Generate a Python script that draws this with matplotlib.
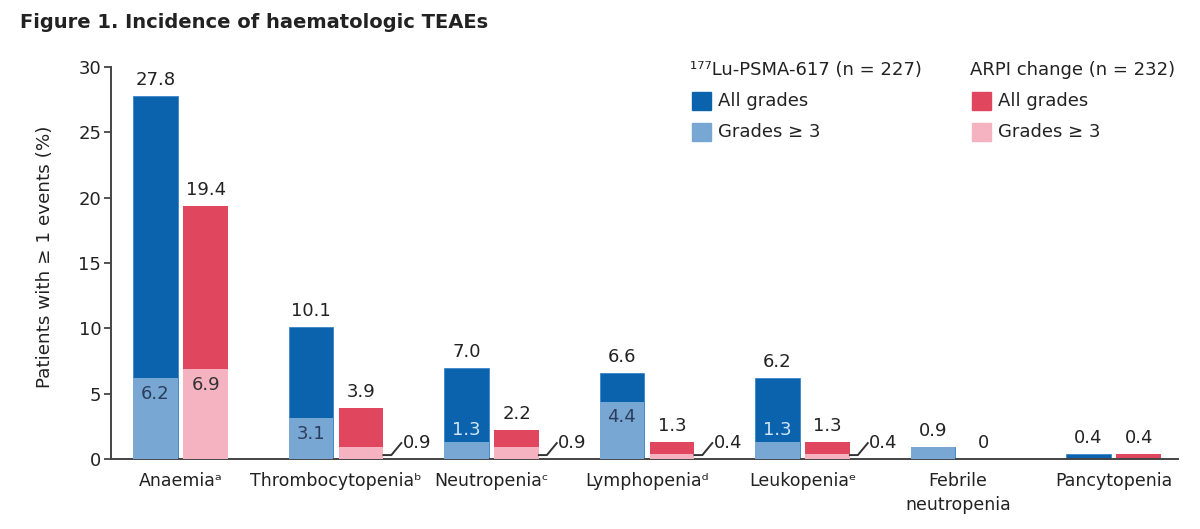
import matplotlib
matplotlib.use("Agg")
import matplotlib.pyplot as plt
from matplotlib.patches import Rectangle
import numpy as np

plt.rcParams['font.family'] = ['DejaVu Sans']

categories = ["Anaemia\u1d43", "Thrombocytopenia\u1d47", "Neutropenia\u1d9c",
              "Lymphopenia\u1d48", "Leukopenia\u1d49", "Febrile\nneutropenia", "Pancytopenia"]
lu_all = [27.8, 10.1, 7.0, 6.6, 6.2, 0.9, 0.4]
lu_g3 = [6.2, 3.1, 1.3, 4.4, 1.3, 0.9, 0.0]
arpi_all = [19.4, 3.9, 2.2, 1.3, 1.3, 0.0, 0.4]
arpi_g3 = [6.9, 0.9, 0.9, 0.4, 0.4, 0.0, 0.0]
yticks = [0, 5, 10, 15, 20, 25, 30]
lu_header = "\u00b9\u2077\u2077Lu-PSMA-617 (n = 227)"
arpi_header = "ARPI change (n = 232)"
legend_labels = ["All grades", "Grades \u2265 3"]
title = "Figure 1. Incidence of haematologic TEAEs"
ylabel = "Patients with \u2265 1 events (%)"

C_DB = "#0b62ad"
C_LB = "#78a7d4"
C_R = "#e0475f"
C_P = "#f5b3c1"
TXT = "#222222"

fig = plt.figure(figsize=(12, 5.29), dpi=100)
ax = fig.add_axes([111/1200, 1-459/529, (1178-111)/1200, (459-67)/529])

x = np.arange(len(categories))
w = 0.286
off = 0.162
fs = 13

ax.bar(x - off, lu_all, w, color=C_DB, edgecolor="#3a85c8", linewidth=0.6, zorder=2)
ax.bar(x - off, lu_g3, w, color=C_LB, zorder=3)
ax.bar(x + off, arpi_all, w, color=C_R, zorder=2)
ax.bar(x + off, arpi_g3, w, color=C_P, zorder=3)

def fmt(v):
    return "0" if v == 0 else f"{v:.1f}"

for i in range(len(categories)):
    for xc, v in ((x[i] - off, lu_all[i]), (x[i] + off, arpi_all[i])):
        ax.annotate(fmt(v), (xc, v), xytext=(0, 5), textcoords="offset points",
                    ha="center", va="bottom", fontsize=fs, color=TXT)
    g, a = lu_g3[i], lu_all[i]
    if 0 < g < a:
        if g >= 3:
            ax.annotate(fmt(g), (x[i] - off, g), xytext=(0, -5), textcoords="offset points",
                        ha="center", va="top", fontsize=fs, color="#2b3d5c", zorder=5)
        else:
            ax.annotate(fmt(g), (x[i] - off, g), xytext=(0, 2), textcoords="offset points",
                        ha="center", va="bottom", fontsize=fs, color="#d2e6f7", zorder=5)
    g, a = arpi_g3[i], arpi_all[i]
    if 0 < g < a:
        if g >= 3:
            ax.annotate(fmt(g), (x[i] + off, g), xytext=(0, -5), textcoords="offset points",
                        ha="center", va="top", fontsize=fs, color="#333333", zorder=5)
        else:
            xr = x[i] + off + w / 2
            ax.plot([xr, xr + 0.051, xr + 0.115], [0.3, 0.3, 1.22],
                    color="#333333", lw=1.4, zorder=4, clip_on=False)
            ax.text(xr + 0.125, 1.22, fmt(g), ha="left", va="center",
                    fontsize=fs, color=TXT)

ax.set_xlim(-0.447, 6.415)
ax.set_ylim(0, 30)
ax.set_yticks(yticks)
ax.set_yticklabels([str(t) for t in yticks], fontsize=fs, color=TXT)
ax.set_xticks(x)
ax.set_xticklabels(categories, fontsize=12.5, color=TXT, linespacing=1.45)
ax.tick_params(axis="x", length=0, pad=9)
ax.tick_params(axis="y", length=5, width=1.3, color="#444444", pad=2)
for s in ("top", "right"):
    ax.spines[s].set_visible(False)
for s in ("left", "bottom"):
    ax.spines[s].set_color("#444444")
    ax.spines[s].set_linewidth(1.4)
ax.set_ylabel(ylabel, fontsize=13.2, color=TXT)
ax.yaxis.set_label_coords(-57/1067, (459-257)/392)

fig.text(20/1200, 1-22/529, title, fontsize=14, fontweight="bold",
         color="#222222", ha="left", va="center")

def px(xp, yp):
    return xp / 1200, 1 - yp / 529

for x0, header, cols in ((690, lu_header, (C_DB, C_LB)), (970, arpi_header, (C_R, C_P))):
    fig.text(*px(x0, 70), header, fontsize=13, color=TXT, ha="left", va="center")
    for k, (lab, c) in enumerate(zip(legend_labels, cols)):
        yc = 101 + 31 * k
        fig.patches.append(Rectangle(px(x0 + 2, yc + 9), 19/1200, 18/529,
                                     transform=fig.transFigure, color=c))
        fig.text(*px(x0 + 28, yc), lab, fontsize=13, color=TXT, ha="left", va="center")

fig.savefig("out.png", dpi=100)
